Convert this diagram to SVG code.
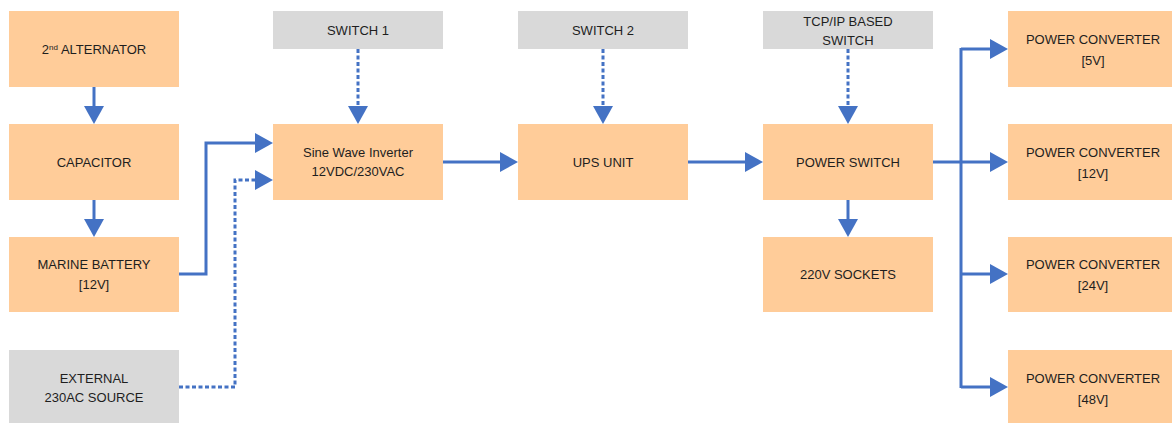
<svg xmlns="http://www.w3.org/2000/svg" width="1172" height="423" viewBox="0 0 1172 423">
  <style>
    .main { fill: #FFCC99; }
    .ctl { fill: #D9D9D9; }
    .lbl { font-family: "Liberation Sans", Arial, sans-serif; font-size: 13px; fill: #1e1e1e; text-anchor: middle; }
    .sup { font-size: 8px; }
    .wire { fill: none; stroke: #4472C4; stroke-width: 3; marker-end: url(#arr); }
    .dot { fill: none; stroke: #4472C4; stroke-width: 3; stroke-dasharray: 4 2.5; marker-end: url(#arr); }
    .seg { fill: none; stroke: #4472C4; stroke-width: 3; }
  </style>
  <defs>
    <marker id="arr" viewBox="0 0 18 20" refX="13" refY="10" markerWidth="18" markerHeight="20" markerUnits="userSpaceOnUse" orient="auto">
      <path d="M0,0 L18,10 L0,20 z" fill="#4472C4"/>
    </marker>
  </defs>
  <rect width="1172" height="423" fill="#FFFFFF"/>

  <g id="connectors">
    <path class="wire" d="M94,87 V119"/>
    <path class="wire" d="M94,200 V232"/>
    <path class="wire" d="M179,274 H206 V143 H268"/>
    <path class="dot" d="M179,387 H235 V180 H268"/>
    <path class="dot" d="M358,49 V119"/>
    <path class="dot" d="M603,49 V119"/>
    <path class="dot" d="M848,49 V119"/>
    <path class="wire" d="M443,162 H513"/>
    <path class="wire" d="M688,162 H758"/>
    <path class="wire" d="M848,200 V232"/>
    <path class="seg" d="M933,162 H961"/>
    <path class="seg" d="M961,48 V388"/>
    <path class="wire" d="M961,49 H1003"/>
    <path class="wire" d="M961,162 H1003"/>
    <path class="wire" d="M961,274 H1003"/>
    <path class="wire" d="M961,387 H1003"/>
  </g>

  <g id="alternator">
    <rect class="main" x="9" y="11" width="170" height="76"/>
    <text class="lbl" x="94" y="53.6">2<tspan class="sup" dy="-4">nd</tspan><tspan dy="4"> ALTERNATOR</tspan></text>
  </g>
  <g id="capacitor">
    <rect class="main" x="9" y="124" width="170" height="76"/>
    <text class="lbl" x="94" y="166.6">CAPACITOR</text>
  </g>
  <g id="marine-battery">
    <rect class="main" x="9" y="237" width="170" height="75"/>
    <text class="lbl" x="94" y="269.3">MARINE BATTERY</text>
    <text class="lbl" x="94" y="289.3">[12V]</text>
  </g>
  <g id="external-source">
    <rect class="ctl" x="9" y="350" width="170" height="76"/>
    <text class="lbl" x="94" y="382.6">EXTERNAL</text>
    <text class="lbl" x="94" y="401.6">230AC SOURCE</text>
  </g>

  <g id="switch1">
    <rect class="ctl" x="273" y="11" width="170" height="38"/>
    <text class="lbl" x="358" y="34.6">SWITCH 1</text>
  </g>
  <g id="inverter">
    <rect class="main" x="273" y="124" width="170" height="76"/>
    <text class="lbl" x="358" y="156.9">Sine Wave Inverter</text>
    <text class="lbl" x="358" y="176.3">12VDC/230VAC</text>
  </g>

  <g id="switch2">
    <rect class="ctl" x="518" y="11" width="170" height="38"/>
    <text class="lbl" x="603" y="34.6">SWITCH 2</text>
  </g>
  <g id="ups">
    <rect class="main" x="518" y="124" width="170" height="76"/>
    <text class="lbl" x="603" y="166.6">UPS UNIT</text>
  </g>

  <g id="tcpip-switch">
    <rect class="ctl" x="763" y="11" width="170" height="38"/>
    <text class="lbl" x="848" y="25.6">TCP/IP BASED</text>
    <text class="lbl" x="848" y="44.6">SWITCH</text>
  </g>
  <g id="power-switch">
    <rect class="main" x="763" y="124" width="170" height="76"/>
    <text class="lbl" x="848" y="166.6">POWER SWITCH</text>
  </g>
  <g id="sockets">
    <rect class="main" x="763" y="237" width="170" height="75"/>
    <text class="lbl" x="848" y="279.1">220V SOCKETS</text>
  </g>

  <g id="conv-5v">
    <rect class="main" x="1008" y="11" width="170" height="76"/>
    <text class="lbl" x="1093" y="43.9">POWER CONVERTER</text>
    <text class="lbl" x="1093" y="65.3">[5V]</text>
  </g>
  <g id="conv-12v">
    <rect class="main" x="1008" y="124" width="170" height="76"/>
    <text class="lbl" x="1093" y="156.9">POWER CONVERTER</text>
    <text class="lbl" x="1093" y="178.3">[12V]</text>
  </g>
  <g id="conv-24v">
    <rect class="main" x="1008" y="237" width="170" height="75"/>
    <text class="lbl" x="1093" y="269.3">POWER CONVERTER</text>
    <text class="lbl" x="1093" y="290.3">[24V]</text>
  </g>
  <g id="conv-48v">
    <rect class="main" x="1008" y="350" width="170" height="76"/>
    <text class="lbl" x="1093" y="382.6">POWER CONVERTER</text>
    <text class="lbl" x="1093" y="403.6">[48V]</text>
  </g>
</svg>
